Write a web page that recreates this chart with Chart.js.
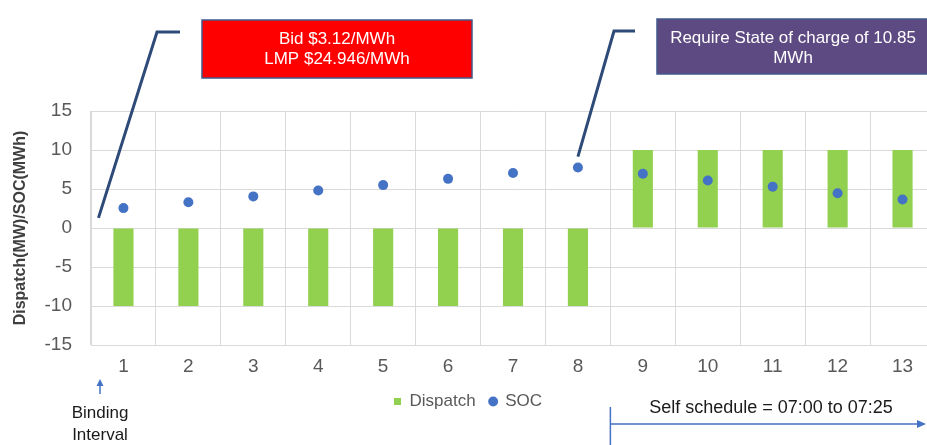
<!DOCTYPE html>
<html>
<head>
<meta charset="utf-8">
<script src="https://cdn.jsdelivr.net/npm/chart.js@4/dist/chart.umd.min.js"></script>
<style>
    html, body { margin: 0; padding: 0; background: #fff; overflow: hidden; }
    #wrap { width: 940px; height: 445px; }
</style>
</head>
<body>
<div id="wrap"><canvas id="chart" width="940" height="445"></canvas></div>
<script>
// chart values
const intervals = ['1', '2', '3', '4', '5', '6', '7', '8', '9', '10', '11', '12', '13'];
const dispatch = [-10, -10, -10, -10, -10, -10, -10, -10, 10, 10, 10, 10, 10];
const soc = [2.55, 3.3, 4.05, 4.8, 5.5, 6.3, 7.05, 7.75, 6.95, 6.1, 5.3, 4.45, 3.65];
const yTicks = [-15, -10, -5, 0, 5, 10, 15];

const FONT = "'Liberation Sans', Arial, sans-serif";
const GRID = '#d9d9d9';
const TICK = '#595959';

// callouts, labels and arrows around the plot
const notesPlugin = {
    id: 'notes',
    afterDraw(chart) {
        const ctx = chart.ctx;
        const x = chart.scales.x;
        const y = chart.scales.y;

        function box(left, top, w, h, fill, lines) {
            ctx.fillStyle = fill;
            ctx.fillRect(left, top, w, h);
            ctx.strokeStyle = '#41598a';
            ctx.lineWidth = 1.5;
            ctx.strokeRect(left, top, w, h);
            ctx.fillStyle = '#ffffff';
            ctx.font = '17px ' + FONT;
            ctx.textAlign = 'center';
            ctx.textBaseline = 'middle';
            lines.forEach((t, i) => ctx.fillText(t, left + w / 2, top + 19 + i * 20));
        }

        function callout(pts) {
            ctx.strokeStyle = '#2e4a78';
            ctx.lineWidth = 3;
            ctx.beginPath();
            ctx.moveTo(pts[0][0], pts[0][1]);
            pts.slice(1).forEach(p => ctx.lineTo(p[0], p[1]));
            ctx.stroke();
        }

        ctx.save();
        box(202, 20, 270, 58, '#ff0000', ['Bid $3.12/MWh', 'LMP $24.946/MWh']);
        box(657, 19, 272, 55, '#5e4a82', ['Require State of charge of 10.85', 'MWh']);

        callout([[180, 32], [157, 32], [x.getPixelForValue(0) - 25, y.getPixelForValue(1.3)]]);
        callout([[635, 31], [614, 31], [x.getPixelForValue(7), y.getPixelForValue(soc[7]) - 11]]);

        // binding interval
        ctx.fillStyle = '#1a1a1a';
        ctx.font = '17px ' + FONT;
        ctx.textAlign = 'center';
        ctx.textBaseline = 'middle';
        ctx.fillText('Binding', 100, 413);
        ctx.fillText('Interval', 100, 435);
        ctx.strokeStyle = '#4472c4';
        ctx.fillStyle = '#4472c4';
        ctx.lineWidth = 1.5;
        ctx.beginPath();
        ctx.moveTo(100, 394);
        ctx.lineTo(100, 384);
        ctx.stroke();
        ctx.beginPath();
        ctx.moveTo(100, 379);
        ctx.lineTo(96.5, 386);
        ctx.lineTo(103.5, 386);
        ctx.closePath();
        ctx.fill();

        // self schedule
        const sx = (x.getPixelForValue(7) + x.getPixelForValue(8)) / 2;
        ctx.beginPath();
        ctx.moveTo(sx, 407);
        ctx.lineTo(sx, 445);
        ctx.moveTo(sx, 424);
        ctx.lineTo(918, 424);
        ctx.stroke();
        ctx.beginPath();
        ctx.moveTo(926, 424);
        ctx.lineTo(917, 420);
        ctx.lineTo(917, 428);
        ctx.closePath();
        ctx.fill();
        ctx.fillStyle = '#1a1a1a';
        ctx.font = '18px ' + FONT;
        ctx.fillText('Self schedule = 07:00 to 07:25', 771, 408);
        ctx.restore();
    }
};

const ctx = document.getElementById('chart').getContext('2d');
new Chart(ctx, {
    type: 'bar',
    data: {
        labels: intervals,
        datasets: [
            {
                type: 'line',
                label: 'SOC',
                data: soc,
                showLine: false,
                pointRadius: 5,
                pointHoverRadius: 5,
                pointStyle: 'circle',
                backgroundColor: '#4472c4',
                borderColor: '#4472c4',
                borderWidth: 0
            },
            {
                label: 'Dispatch',
                data: dispatch,
                backgroundColor: '#92d050',
                pointStyle: 'rect',
                categoryPercentage: 1,
                barPercentage: 0.31
            }
        ]
    },
    options: {
        responsive: false,
        animation: false,
        layout: { padding: { top: 111, left: 0, right: 4, bottom: 25 } },
        plugins: {
            tooltip: { enabled: false },
            legend: {
                position: 'bottom',
                labels: {
                    usePointStyle: true,
                    boxWidth: 7,
                    boxHeight: 7,
                    padding: 14,
                    color: TICK,
                    font: { family: FONT, size: 17 },
                    sort: (a, b) => b.datasetIndex - a.datasetIndex
                }
            }
        },
        scales: {
            x: {
                grid: { color: GRID, drawTicks: false, offset: true },
                border: { color: GRID },
                ticks: { color: TICK, padding: 10, font: { family: FONT, size: 19 } },
                afterFit: scale => { scale.height = 34; }
            },
            y: {
                min: -15,
                max: 15,
                afterBuildTicks: scale => { scale.ticks = yTicks.map(v => ({ value: v })); },
                grid: { color: GRID, drawTicks: false },
                border: { color: GRID },
                ticks: { color: TICK, padding: 19, font: { family: FONT, size: 19 } },
                title: {
                    display: true,
                    text: 'Dispatch(MW)/SOC(MWh)',
                    color: '#404040',
                    padding: { top: 11, bottom: 0 },
                    font: { family: FONT, size: 16, weight: 'bold' }
                },
                afterFit: scale => { scale.width = 91; }
            }
        }
    },
    plugins: [notesPlugin]
});
</script>
</body>
</html>
